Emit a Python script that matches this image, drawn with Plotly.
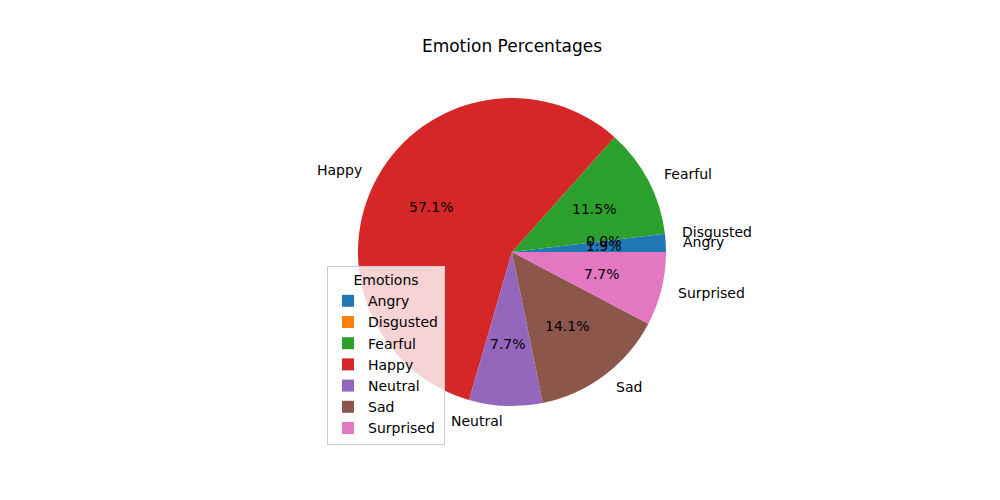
import math
import plotly.graph_objects as go

labels = ["Angry", "Disgusted", "Fearful", "Happy", "Neutral", "Sad", "Surprised"]
values = [1.9, 0.0, 11.5, 57.1, 7.7, 14.1, 7.7]
colors = ["#1f77b4", "#ff7f0e", "#2ca02c", "#d62728", "#9467bd", "#8c564b", "#e377c2"]

W, H = 1000, 500
OFF = 8  # browser default body margin
CX, CY, R = 512 - OFF, 252 - OFF, 154  # pie center / radius in pixels


def xp(px):
    return px / W


def yp(py):
    return 1 - py / H


total = sum(values)
# plotly places the first counterclockwise slice ending at the rotation angle;
# shift so the first slice starts at 3 o'clock like matplotlib
rot = 90 - values[0] / total * 360

fig = go.Figure(go.Pie(
    labels=labels, values=values, sort=False, direction="counterclockwise",
    rotation=rot, marker=dict(colors=colors, line=dict(width=0)),
    textinfo="none", hoverinfo="label+percent",
    domain=dict(x=[xp(CX - R), xp(CX + R)], y=[yp(CY + R), yp(CY - R)]),
))

font = dict(family="DejaVu Sans", size=14, color="black")
cum = 0.0
annotations = []
for lab, v in zip(labels, values):
    mid = (cum + v / 2) / total * 2 * math.pi
    cum += v
    c, s = math.cos(mid), math.sin(mid)
    annotations.append(dict(x=xp(CX + 1.1 * R * c), y=yp(CY - 1.1 * R * s), xref="paper", yref="paper",
                            text=lab, showarrow=False,
                            xanchor="left" if c > 0 else "right", yanchor="middle", font=font))
    annotations.append(dict(x=xp(CX + 0.6 * R * c), y=yp(CY - 0.6 * R * s), xref="paper", yref="paper",
                            text=f"{v / total * 100:.1f}%",
                            showarrow=False, xanchor="center", yanchor="middle", font=font))

fig.update_layout(
    width=W, height=H, margin=dict(l=0, r=0, t=0, b=0),
    paper_bgcolor="white", plot_bgcolor="white",
    font=font,
    title=dict(text="Emotion Percentages", x=xp(512 - OFF), xref="paper", y=yp(46 - OFF), yref="paper",
               xanchor="center", yanchor="middle", font=dict(family="DejaVu Sans", size=17, color="black")),
    legend=dict(x=xp(327 - OFF), y=yp(266 - OFF), xanchor="left", yanchor="top",
                bgcolor="rgba(255,255,255,0.8)", bordercolor="#cccccc", borderwidth=1,
                title=dict(text="Emotions", side="top center", font=dict(family="DejaVu Sans", size=14)),
                font=dict(family="DejaVu Sans", size=14), tracegroupgap=0),
    annotations=annotations,
)

fig.write_html("out.html")
